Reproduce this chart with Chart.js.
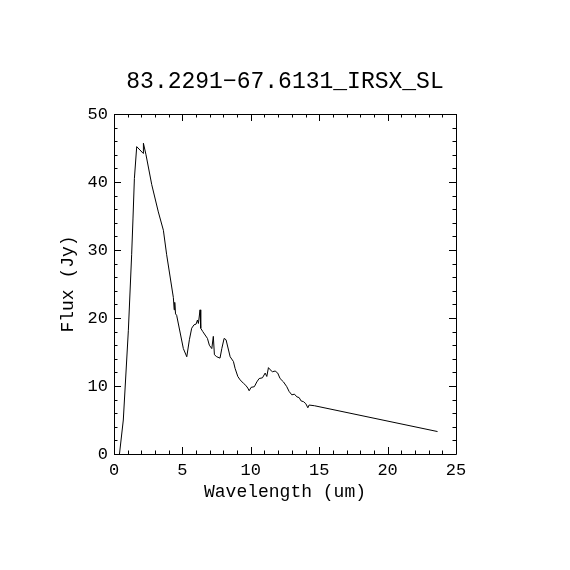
<!DOCTYPE html>
<html>
<head>
<meta charset="utf-8">
<title>83.2291-67.6131_IRSX_SL</title>
<script src="https://cdn.jsdelivr.net/npm/chart.js@4.4.0/dist/chart.umd.min.js"></script>
<style>
    body { margin: 0; background: #ffffff; }
    canvas { display: block; }
</style>
</head>
<body>
<canvas id="spectrumChart" width="570" height="570"></canvas>
<script>
const chartTitle = '83.2291\u221267.6131_IRSX_SL';
const xTitle = 'Wavelength (um)';
const yTitle = 'Flux (Jy)';

// values
const wavelength = [
    0.40, 0.68, 1.05, 1.29, 1.39, 1.49, 1.66, 2.14, 2.15, 2.34, 2.76, 3.24, 3.61, 3.85,
    4.34, 4.40, 4.44, 4.50, 4.58, 5.07, 5.32, 5.51, 5.68, 5.85, 6.00, 6.10, 6.17, 6.29,
    6.34, 6.49, 6.66, 6.83, 6.97, 7.15, 7.26, 7.34, 7.51, 7.75, 7.88, 8.05, 8.19, 8.49,
    8.73, 8.85, 9.05, 9.22, 9.46, 9.63, 9.78, 9.88, 10.02, 10.26, 10.44, 10.61, 10.85,
    11.05, 11.17, 11.29, 11.41, 11.58, 11.78, 11.97, 12.14, 12.39, 12.63, 12.80, 13.00,
    13.19, 13.37, 13.53, 13.68, 13.85, 14.02, 14.17, 14.26, 14.65, 23.65
];
const flux = [
    0.0, 5.0, 18.2, 29.3, 34.7, 40.5, 45.2, 44.2, 45.7, 44.0, 39.6, 35.6, 32.9, 29.3,
    23.0, 21.2, 22.3, 20.6, 20.4, 15.5, 14.3, 16.8, 18.5, 19.0, 19.1, 19.7, 19.2, 21.2,
    18.5, 18.0, 17.5, 17.0, 16.0, 15.5, 17.3, 14.6, 14.3, 14.1, 15.5, 17.0, 16.8, 14.3,
    13.6, 12.6, 11.4, 10.9, 10.4, 10.1, 9.7, 9.3, 9.8, 9.9, 10.6, 11.1, 11.2,
    11.9, 11.4, 12.7, 12.4, 12.1, 12.2, 11.9, 11.1, 10.6, 9.9, 9.2, 8.7,
    8.8, 8.4, 8.3, 7.8, 7.7, 7.4, 6.8, 7.2, 7.1, 3.3
];

const xMin = 0, xMax = 25, xMajor = 5, xMinor = 1;
const yMin = 0, yMax = 50, yMajor = 10, yMinor = 2;

const fontFamily = '"Liberation Mono", "DejaVu Sans Mono", monospace';

Chart.defaults.color = '#000000';
Chart.defaults.font.family = fontFamily;

// IDL style box with inward major and minor ticks on all four sides
const frameTicks = {
    id: 'frameTicks',
    afterDraw(chart) {
        const ctx = chart.ctx;
        const area = chart.chartArea;
        const x = chart.scales.x;
        const y = chart.scales.y;
        const majorLen = 7;
        const minorLen = 3.5;

        ctx.save();
        ctx.strokeStyle = '#000000';
        ctx.lineWidth = 1;
        ctx.beginPath();
        ctx.rect(area.left + 0.5, area.top + 0.5, area.right - area.left, area.bottom - area.top);

        for (let v = xMin; v <= xMax + 1e-9; v += xMinor) {
            const px = Math.round(x.getPixelForValue(v)) + 0.5;
            const len = Math.abs(v % xMajor) < 1e-9 ? majorLen : minorLen;
            ctx.moveTo(px, area.bottom);
            ctx.lineTo(px, area.bottom - len);
            ctx.moveTo(px, area.top);
            ctx.lineTo(px, area.top + len);
        }
        for (let v = yMin; v <= yMax + 1e-9; v += yMinor) {
            const py = Math.round(y.getPixelForValue(v)) + 0.5;
            const len = Math.abs(v % yMajor) < 1e-9 ? majorLen : minorLen;
            ctx.moveTo(area.left, py);
            ctx.lineTo(area.left + len, py);
            ctx.moveTo(area.right, py);
            ctx.lineTo(area.right - len, py);
        }
        ctx.stroke();
        ctx.restore();
    }
};

const points = wavelength.map((w, i) => ({ x: w, y: flux[i] }));

new Chart(document.getElementById('spectrumChart'), {
    type: 'line',
    data: {
        datasets: [{
            data: points,
            borderColor: '#000000',
            borderWidth: 1,
            pointRadius: 0,
            fill: false,
            tension: 0
        }]
    },
    options: {
        responsive: false,
        animation: false,
        layout: {
            padding: { left: 0, right: 114, top: 0, bottom: 56 }
        },
        plugins: {
            legend: { display: false },
            tooltip: { enabled: false },
            title: {
                display: true,
                text: chartTitle,
                fullSize: false,
                color: '#000000',
                font: { family: fontFamily, size: 23, weight: 'normal', lineHeight: 1 },
                padding: { top: 70, bottom: 21 }
            }
        },
        scales: {
            x: {
                type: 'linear',
                position: 'bottom',
                min: xMin,
                max: xMax,
                afterFit(scale) { scale.height = 60; },
                grid: { display: false, drawTicks: false },
                border: { display: false },
                ticks: {
                    stepSize: xMajor,
                    padding: 6,
                    maxRotation: 0,
                    font: { size: 17 }
                },
                title: {
                    display: true,
                    text: xTitle,
                    font: { size: 18 },
                    padding: { top: 0, bottom: 11 }
                }
            },
            y: {
                type: 'linear',
                position: 'left',
                min: yMin,
                max: yMax,
                afterFit(scale) { scale.width = 114; },
                grid: { display: false, drawTicks: false },
                border: { display: false },
                ticks: {
                    stepSize: yMajor,
                    padding: 6,
                    font: { size: 17 }
                },
                title: {
                    display: true,
                    text: yTitle,
                    font: { size: 18 },
                    padding: { top: 57, bottom: 0 }
                }
            }
        }
    },
    plugins: [frameTicks]
});
</script>
</body>
</html>
